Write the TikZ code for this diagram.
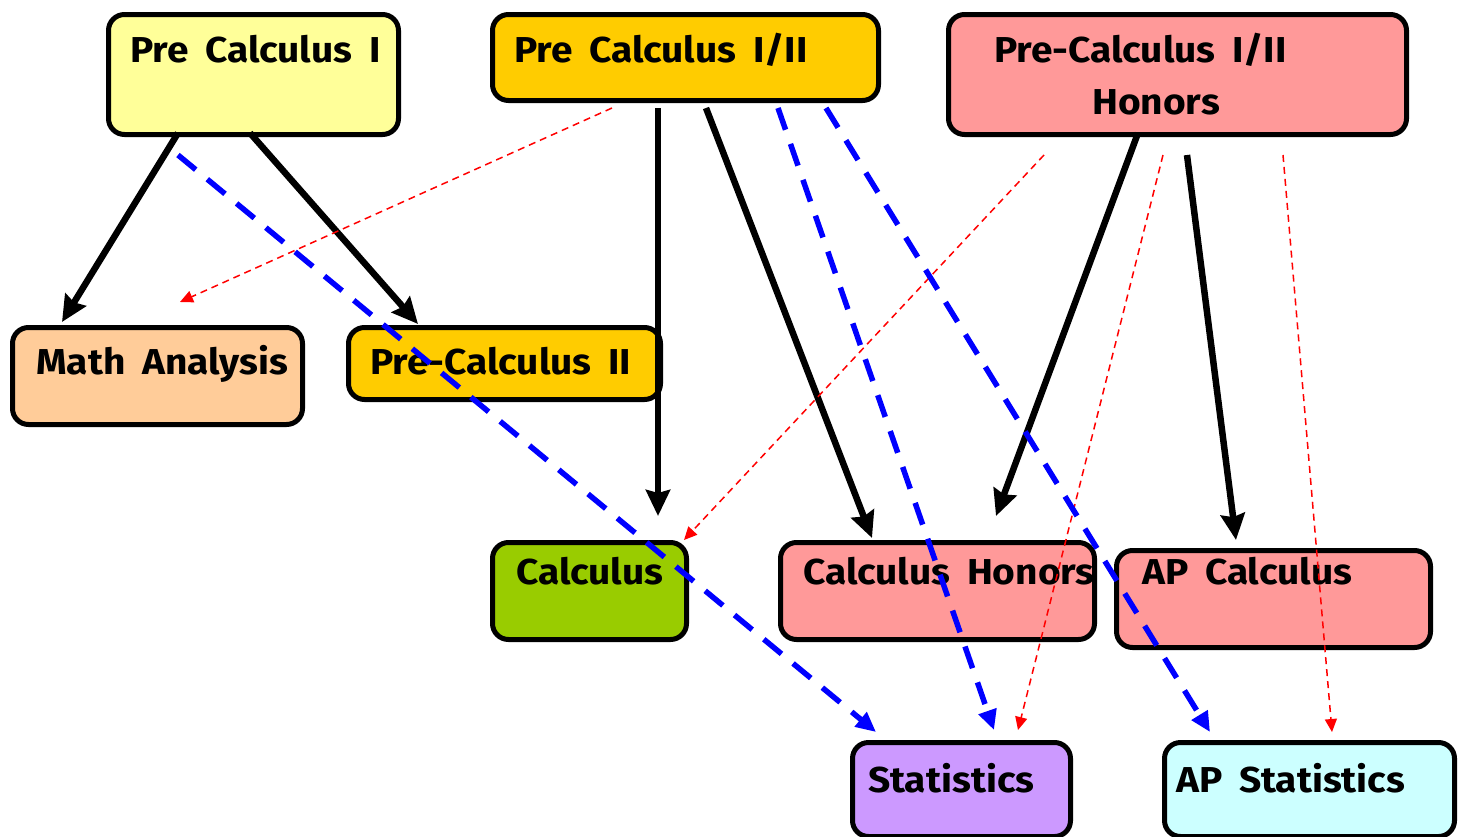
\documentclass[tikz,border=0pt]{standalone}
\usepackage{fontspec}
\setmainfont{Fira Sans}[UprightFont=* Bold, FakeStretch=1.08, WordSpace=1.8]
\usetikzlibrary{arrows.meta}
\definecolor{cYel}{HTML}{FFFF99}
\definecolor{cOra}{HTML}{FFCC00}
\definecolor{cPink}{HTML}{FF9999}
\definecolor{cPeach}{HTML}{FFCC99}
\definecolor{cGreen}{HTML}{99CC00}
\definecolor{cPurp}{HTML}{CC99FF}
\definecolor{cCyan}{HTML}{CCFFFF}
\tikzset{
  box/.style={draw=black, line width=5pt, rounded corners=16pt, inner sep=0pt, anchor=north west},
  lbl/.style={anchor=base west, inner sep=0pt, font=\fontsize{36}{40}\selectfont},
  blk/.style={line width=6.5pt, -{Stealth[length=26pt,width=24pt,inset=3pt]}},
  blu/.style={draw=blue, line width=5.5pt, dash pattern=on 23pt off 15pt, -{Triangle[length=20pt,width=18pt]}, blue},
  rdd/.style={draw=red, line width=1.5pt, dash pattern=on 7pt off 5pt, -{Triangle[length=13pt,width=12pt]}, red}
}
\begin{document}
\begin{tikzpicture}[x=1pt,y=-1pt]
\path[use as bounding box, fill=white] (0,0) rectangle (1462,836);
% boxes
\node[box, fill=cYel, minimum width=290pt, minimum height=120pt] (pc1) at (106,12) {};
\node[box, fill=cOra, minimum width=386pt, minimum height=86pt] (pc12) at (490,12) {};
\node[box, fill=cPink, minimum width=458pt, minimum height=120pt] (pch) at (946,12) {};
\node[box, fill=cPeach, minimum width=290pt, minimum height=97pt] (ma) at (10,325) {};
\node[box, fill=cOra, minimum width=312pt, minimum height=72pt] (pc2) at (346,325) {};
\node[box, fill=cGreen, minimum width=194pt, minimum height=97pt] (calc) at (490,540) {};
\node[box, fill=cPink, minimum width=314pt, minimum height=97pt] (calch) at (778,540) {};
\node[box, fill=cPink, minimum width=314pt, minimum height=97pt] (apc) at (1114,548) {};
\node[box, fill=cPurp, minimum width=218pt, minimum height=94pt] (stat) at (850,740) {};
\node[box, fill=cCyan, minimum width=290pt, minimum height=94pt] (aps) at (1162,740) {};
% labels
\node[lbl] (tpc1) at (130,62) {Pre Calculus I};
\node[lbl] (tpc12) at (514,62) {Pre Calculus I/II};
\node[lbl] (tpch) at (994,62) {Pre-Calculus I/II};
\node[lbl] (tpch2) at (1092,114) {Honors};
\node[lbl] (tma) at (36,374) {Math Analysis};
\node[lbl] (tpc2) at (370,374) {Pre-Calculus II};
\node[lbl] (tcalc) at (516,584) {Calculus};
\node[lbl] (tcalch) at (803,584) {Calculus Honors};
\node[lbl] (tapc) at (1142,584) {AP Calculus};
\node[lbl] (tstat) at (868,792) {Statistics};
\node[lbl] (taps) at (1176,792) {AP Statistics};
% connector end points
\coordinate (k1a) at (178,133); \coordinate (k1b) at (62,322);
\coordinate (k2a) at (250,133); \coordinate (k2b) at (418,324);
\coordinate (k3a) at (658,108); \coordinate (k3b) at (658,516);
\coordinate (k4a) at (706,108); \coordinate (k4b) at (872,538);
\coordinate (k5a) at (1138,133); \coordinate (k5b) at (996,516);
\coordinate (k6a) at (1187,155); \coordinate (k6b) at (1236,540);
\coordinate (b1a) at (178,155); \coordinate (b1b) at (876,732);
\coordinate (b2a) at (778,108); \coordinate (b2b) at (994,730);
\coordinate (b3a) at (826,108); \coordinate (b3b) at (1210,732);
\coordinate (r1a) at (612,108); \coordinate (r1b) at (180,302);
\coordinate (r2a) at (1044,155); \coordinate (r2b) at (684,540);
\coordinate (r3a) at (1163,155); \coordinate (r3b) at (1018,730);
\coordinate (r4a) at (1283,155); \coordinate (r4b) at (1332,732);
% black
\draw[blk] (k1a) -- (k1b);
\draw[blk] (k2a) -- (k2b);
\draw[blk] (k3a) -- (k3b);
\draw[blk] (k4a) -- (k4b);
\draw[blk] (k5a) -- (k5b);
\draw[blk] (k6a) -- (k6b);
% red
\draw[rdd] (r1a) -- (r1b);
\draw[rdd] (r2a) -- (r2b);
\draw[rdd] (r3a) -- (r3b);
\draw[rdd] (r4a) -- (r4b);
% blue
\draw[blu] (b1a) -- (b1b);
\draw[blu] (b2a) -- (b2b);
\draw[blu] (b3a) -- (b3b);
\end{tikzpicture}
\end{document}
